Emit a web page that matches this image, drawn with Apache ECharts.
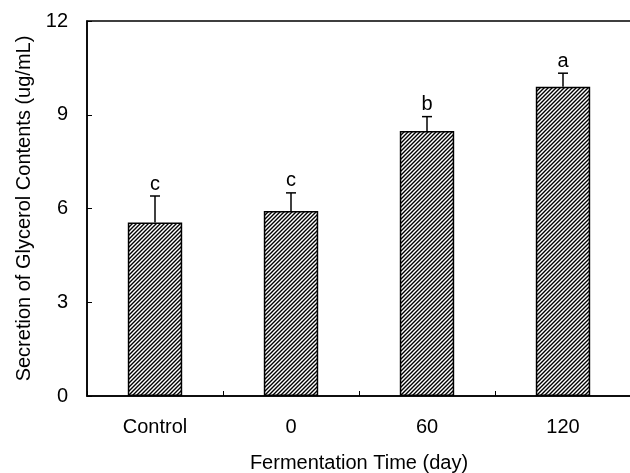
<!DOCTYPE html>
<html><head><meta charset="utf-8">
<script src="https://cdn.jsdelivr.net/npm/echarts@6/dist/echarts.min.js"></script>
<style>html,body{margin:0;padding:0;background:#fff}#c{width:630px;height:473px}</style>
</head><body><div id="c"></div>
<script>
const categories = ['Control', '0', '60', '120'];
const values = [5.55, 5.92, 8.48, 9.9];
const errors = [0.85, 0.58, 0.46, 0.43];
const letters = ['c', 'c', 'b', 'a'];
const yTicks = [0, 3, 6, 9, 12];

function hatch() {
  const s = 4;
  const cv = document.createElement('canvas');
  cv.width = s; cv.height = s;
  const g = cv.getContext('2d');
  g.fillStyle = '#fff'; g.fillRect(0, 0, s, s);
  g.strokeStyle = '#000'; g.lineWidth = 1.4;
  g.beginPath();
  g.moveTo(-1, s + 1); g.lineTo(s + 1, -1);
  g.moveTo(-1, 1); g.lineTo(1, -1);
  g.moveTo(s - 1, s + 1); g.lineTo(s + 1, s - 1);
  g.stroke();
  return cv;
}

const font = 'Liberation Sans, Arial, sans-serif';
const chart = echarts.init(document.getElementById('c'));
chart.setOption({
  animation: false,
  backgroundColor: '#fff',
  grid: { left: 87, top: 21, right: -1, bottom: 77, show: true, borderColor: '#000', borderWidth: 1.5, containLabel: false, outerBoundsMode: 'none' },
  xAxis: {
    type: 'category', data: categories,
    name: 'Fermentation Time (day)', nameLocation: 'middle', nameGap: 57,
    nameTextStyle: { fontFamily: font, fontSize: 20, color: '#000' },
    axisLine: { lineStyle: { color: '#000', width: 1.5 } },
    axisTick: { show: true, inside: true, length: 5, lineStyle: { color: '#000' } },
    axisLabel: { margin: 21, fontFamily: font, fontSize: 20, color: '#000' }
  },
  yAxis: {
    type: 'value', min: yTicks[0], max: yTicks[yTicks.length - 1], interval: 3,
    name: 'Secretion of Glycerol Contents (ug/mL)', nameLocation: 'middle', nameGap: 52,
    nameTextStyle: { fontFamily: font, fontSize: 20, color: '#000' },
    axisLine: { show: true, lineStyle: { color: '#000', width: 1.5 } },
    axisTick: { show: true, inside: true, length: 5, lineStyle: { color: '#000' } },
    axisLabel: { margin: 19, fontFamily: font, fontSize: 20, color: '#000' },
    splitLine: { show: false }
  },
  series: [
    {
      type: 'bar', data: values, barWidth: '40%',
      itemStyle: { color: { image: hatch(), repeat: 'repeat' }, borderColor: '#000', borderWidth: 1.5 },
      z: 2
    },
    {
      type: 'custom', z: 3,
      data: values.map((v, i) => [i, v, v + errors[i], letters[i]]),
      renderItem: function (params, api) {
        const base = api.coord([api.value(0), api.value(1)]);
        const top = api.coord([api.value(0), api.value(2)]);
        const x = base[0];
        const cap = 5;
        return {
          type: 'group',
          children: [
            { type: 'line', shape: { x1: x, y1: base[1], x2: x, y2: top[1] }, style: { stroke: '#000', lineWidth: 1.5 } },
            { type: 'line', shape: { x1: x - cap, y1: top[1], x2: x + cap, y2: top[1] }, style: { stroke: '#000', lineWidth: 1.5 } },
            { type: 'text', x: x, y: top[1] - 2, style: { text: letters[params.dataIndex], fontFamily: font, fontSize: 20, fill: '#000', align: 'center', verticalAlign: 'bottom' } }
          ]
        };
      }
    }
  ]
});
</script></body></html>
